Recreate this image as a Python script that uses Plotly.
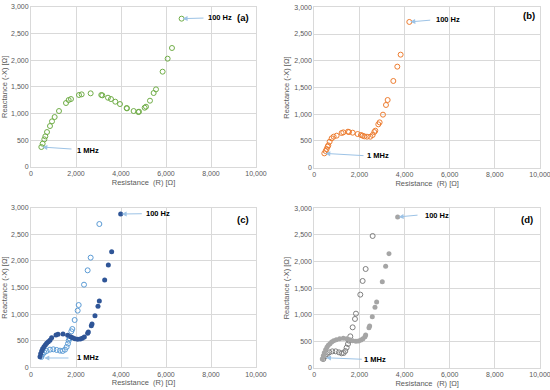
import plotly.graph_objects as go

# (a) green series
a_R = [459, 518, 592, 637, 711, 844, 933, 1051, 1244, 1555, 1674, 1777, 2133, 2251, 2651, 3125, 3170,
       3421, 3555, 3747, 3955, 4251, 4266, 4562, 4770, 4800, 5051, 5110, 5288, 5451, 5555, 5850, 6073, 6266, 6694]
a_X = [370, 432, 514, 570, 651, 764, 852, 933, 1046, 1196, 1253, 1271, 1347, 1359, 1378, 1347, 1340,
       1296, 1271, 1221, 1177, 1102, 1096, 1046, 1027, 1033, 1108, 1127, 1240, 1384, 1453, 1785, 2029, 2230, 2781]

# (b) orange series
b_R = [443, 502, 547, 591, 620, 679, 768, 857, 990, 1211, 1285, 1492, 1536, 1699, 1920, 2068, 2142, 2216,
       2334, 2481, 2585, 2659, 2703, 2836, 2895, 3043, 3176, 3250, 3501, 3678, 3825, 4209]
b_X = [268, 312, 349, 393, 418, 486, 549, 580, 599, 649, 661, 674, 667, 655, 630, 611, 599, 586,
       580, 580, 611, 667, 692, 811, 848, 992, 1173, 1266, 1622, 1890, 2114, 2726]

# (c) filled dark blue series
c1_R = [400, 430, 474, 518, 578, 637, 696, 770, 844, 918, 1111, 1200, 1422, 1629, 1762, 1851, 1955, 2073,
        2192, 2281, 2370, 2518, 2548, 2681, 2711, 2844, 2977, 3037, 3274, 3437, 3585, 3985]
c1_X = [200, 257, 307, 351, 388, 420, 451, 482, 507, 557, 608, 620, 626, 601, 576, 557, 539, 526,
        532, 545, 570, 639, 664, 783, 814, 971, 1146, 1246, 1641, 1923, 2173, 2881]
# (c) open light blue series
c2_R = [459, 518, 592, 696, 844, 992, 1140, 1289, 1407, 1510, 1585, 1644, 1674, 1718, 1793, 1837, 1941,
        2074, 2119, 2356, 2518, 2652, 3037]
c2_X = [194, 244, 282, 307, 332, 338, 326, 313, 307, 332, 382, 445, 501, 545, 676, 720, 889,
        1065, 1171, 1553, 1823, 2061, 2693]

# (d) filled grey series
d1_R = [355, 399, 443, 502, 561, 620, 694, 768, 857, 975, 1123, 1285, 1433, 1566, 1699, 1846, 1964, 2068,
        2157, 2245, 2275, 2422, 2452, 2570, 2688, 2762, 3013, 3161, 3309, 3693]
d1_X = [169, 232, 288, 344, 388, 426, 457, 489, 514, 532, 551, 557, 551, 532, 514, 501, 507, 526,
        551, 589, 620, 758, 789, 965, 1140, 1240, 1622, 1910, 2148, 2837]
# (d) open dark grey series
d2_R = [399, 473, 561, 665, 798, 945, 1093, 1211, 1300, 1374, 1433, 1492, 1536, 1595, 1699, 1802, 1846,
        2038, 2142, 2275, 2585]
d2_X = [169, 219, 263, 294, 313, 313, 294, 276, 282, 319, 382, 451, 514, 595, 764, 921, 1021,
        1378, 1635, 1860, 2480]

x_ticks = [0, 2000, 4000, 6000, 8000, 10000]
y_ticks = [0, 500, 1000, 1500, 2000, 2500, 3000]
x_title = "Resistance  (R) [Ω]"
y_title = "Reactance (-X) [Ω]"

FONT = "Liberation Sans, Arial, sans-serif"
GRID = "#D9D9D9"
TICKC = "#595959"
ARROW = "#9DC3E6"

fig = go.Figure()

def add_open(xs, ys, color, axis):
    fig.add_trace(go.Scatter(x=xs, y=ys, mode="markers", xaxis="x" + axis, yaxis="y" + axis,
                             marker=dict(symbol="circle-open", size=5, color=color, line=dict(width=1, color=color)),
                             showlegend=False, hoverinfo="x+y"))

def add_filled(xs, ys, color, axis):
    fig.add_trace(go.Scatter(x=xs, y=ys, mode="markers", xaxis="x" + axis, yaxis="y" + axis,
                             marker=dict(symbol="circle", size=5, color=color, line=dict(width=0)),
                             showlegend=False, hoverinfo="x+y"))

add_open(a_R, a_X, "#70AD47", "")
add_open(b_R, b_X, "#ED7D31", "2")
add_open(c2_R, c2_X, "#5B9BD5", "3")
add_filled(c1_R, c1_X, "#2F5597", "3")
add_open(d2_R, d2_X, "#7F7F7F", "4")
add_filled(d1_R, d1_X, "#A5A5A5", "4")

domains = {
    "": ([31 / 550, 256 / 550], [1 - 166.7 / 390, 1 - 7 / 390]),
    "2": ([314.3 / 550, 540 / 550], [1 - 167.7 / 390, 1 - 7.3 / 390]),
    "3": ([31 / 550, 256 / 550], [1 - 367.3 / 390, 1 - 207.7 / 390]),
    "4": ([314.3 / 550, 540 / 550], [1 - 368 / 390, 1 - 208.3 / 390]),
}

layout = dict(width=550, height=390, margin=dict(l=0, r=0, t=0, b=0),
              paper_bgcolor="white", plot_bgcolor="white",
              font=dict(family=FONT, color=TICKC, size=7))

for ax, (xd, yd) in domains.items():
    xa = "xaxis" + ax
    ya = "yaxis" + ax
    layout[xa] = dict(domain=xd, range=[0, 10000], tickvals=x_ticks, tickformat=",d",
                      showgrid=True, gridcolor=GRID, gridwidth=1, zeroline=False,
                      showline=True, linecolor=GRID, mirror=True, ticklabeloverflow="allow",
                      ticks="", tickfont=dict(size=7, color=TICKC), automargin=False,
                      anchor="y" + ax, fixedrange=True,
                      title=dict(text=x_title, font=dict(size=7.5, color=TICKC), standoff=3))
    layout[ya] = dict(domain=yd, range=[0, 3000], tickvals=y_ticks, tickformat=",d",
                      showgrid=True, gridcolor=GRID, gridwidth=1, zeroline=False,
                      showline=True, linecolor=GRID, mirror=True, ticklabeloverflow="allow",
                      ticks="", tickfont=dict(size=7, color=TICKC), automargin=False,
                      anchor="x" + ax, fixedrange=True,
                      title=dict(text=y_title, font=dict(size=7.5, color=TICKC), standoff=3))

fig.update_layout(**layout)

# annotations: (axis suffix, point, tail, text position, text)
arrows = [
    ("", (6694, 2781), (7733, 2793), (8400, 2812), "100 Hz"),
    ("", (459, 370), (1867, 330), (2533, 312), "1 MHz"),
    ("2", (4209, 2726), (5202, 2762), (5937, 2781), "100 Hz"),
    ("2", (443, 268), (2246, 224), (2836, 232), "1 MHz"),
    ("3", (3985, 2881), (4992, 2887), (5658, 2895), "100 Hz"),
    ("3", (548, 175), (1733, 175), (2548, 181), "1 MHz"),
    ("4", (3693, 2837), (4639, 2874), (5423, 2874), "100 Hz"),
    ("4", (474, 193), (2171, 163), (2689, 169), "1 MHz"),
]
labels = [("", (9420, 2812), "(a)"), ("2", (9513, 2843), "(b)"),
          ("3", (9437, 2769), "(c)"), ("4", (9411, 2786), "(d)")]

anns = []
for ax, p, t, tp, txt in arrows:
    anns.append(dict(xref="x" + ax, yref="y" + ax, x=p[0], y=p[1], axref="x" + ax, ayref="y" + ax,
                     ax=t[0], ay=t[1], text="", showarrow=True, arrowhead=2, arrowsize=1,
                     arrowwidth=1, arrowcolor=ARROW, standoff=1))
    anns.append(dict(xref="x" + ax, yref="y" + ax, x=tp[0], y=tp[1], text="<b>" + txt + "</b>",
                     showarrow=False, font=dict(family=FONT, size=7.5, color="#000000")))
for ax, tp, txt in labels:
    anns.append(dict(xref="x" + ax, yref="y" + ax, x=tp[0], y=tp[1], text="<b>" + txt + "</b>",
                     showarrow=False, font=dict(family=FONT, size=9.5, color="#000000")))
fig.update_layout(annotations=anns)

fig.write_html("out.html", config={"displayModeBar": False})

# remove default page margin so the 550x390 figure fills the window exactly
with open("out.html", "r", encoding="utf-8") as f:
    html = f.read()
html = html.replace("<head>", "<head><style>html,body{margin:0;padding:0;overflow:hidden;}</style>", 1)
with open("out.html", "w", encoding="utf-8") as f:
    f.write(html)
